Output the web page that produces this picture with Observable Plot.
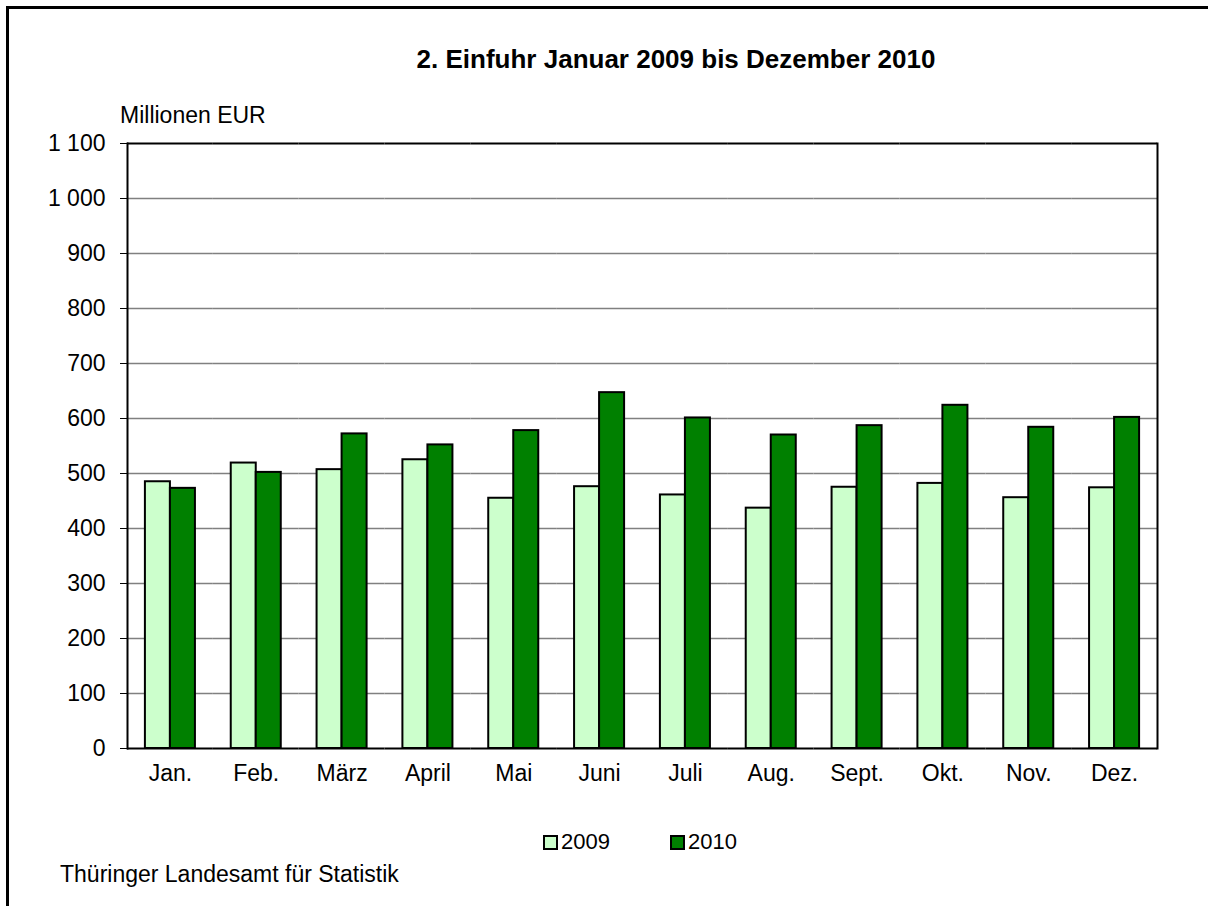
<!DOCTYPE html>
<html>
<head>
<meta charset="utf-8">
<script src="https://cdn.jsdelivr.net/npm/d3@7"></script>
<script src="https://cdn.jsdelivr.net/npm/@observablehq/plot@0.6"></script>
<style>
  html, body { margin: 0; padding: 0; background: #fff; }
  body { font-family: "Liberation Sans", Arial, sans-serif; color: #000; }
  #wrap { position: relative; width: 1208px; height: 906px; overflow: hidden; background: #fff; }
  #border { position: absolute; left: 6px; top: 6px; width: 1300px; height: 1000px; border-left: 3px solid #000; border-top: 3px solid #000; box-sizing: border-box; }
  #chart { position: absolute; left: 0; top: 0; }
  .txt { position: absolute; white-space: nowrap; font-size: 23px; line-height: 1; }
  #title { left: 300px; width: 752px; top: 46px; text-align: center; font-weight: bold; font-size: 26px; }
  #unit { left: 120px; top: 104px; }
  #legend { left: 543px; top: 831px; display: flex; align-items: center; font-size: 22px; }
  .sw { display: inline-block; width: 11px; height: 11px; border: 2px solid #000; margin-right: 3px; }
  #caption { left: 60px; top: 863px; }
</style>
</head>
<body>
<div id="wrap">
  <div id="border"></div>
  <div id="chart"></div>
  <div class="txt" id="title"></div>
  <div class="txt" id="unit"></div>
  <div class="txt" id="legend"></div>
  <div class="txt" id="caption"></div>
</div>
<script>
const titleText = "2. Einfuhr Januar 2009 bis Dezember 2010";
const unitText = "Millionen EUR";
const captionText = "Thüringer Landesamt für Statistik";
const months = ["Jan.", "Feb.", "März", "April", "Mai", "Juni", "Juli", "Aug.", "Sept.", "Okt.", "Nov.", "Dez."];
const years = [2009, 2010];
const values2009 = [485, 519, 507, 525, 455, 476, 461, 437, 475, 482, 456, 474];
const values2010 = [473, 502, 572, 552, 578, 647, 601, 570, 587, 624, 584, 602];
const yTicks = [0, 100, 200, 300, 400, 500, 600, 700, 800, 900, 1000, 1100];
const colors = ["#CCFFCC", "#008000"];

const data = [];
months.forEach((m, i) => {
  data.push({month: m, year: 2009, value: values2009[i]});
  data.push({month: m, year: 2010, value: values2010[i]});
});

const fmt = d3.formatLocale({decimal: ",", thousands: " ", grouping: [3], currency: ["", " €"]}).format(",");

document.getElementById("title").textContent = titleText;
document.getElementById("unit").textContent = unitText;
document.getElementById("caption").textContent = captionText;
const legend = document.getElementById("legend");
years.forEach((y, i) => {
  const item = document.createElement("span");
  item.style.display = "inline-flex";
  item.style.alignItems = "center";
  item.style.marginRight = i === 0 ? "60px" : "0";
  const sw = document.createElement("span");
  sw.className = "sw";
  sw.style.background = colors[i];
  item.appendChild(sw);
  item.appendChild(document.createTextNode(String(y)));
  legend.appendChild(item);
});

const gridTicks = yTicks.filter(t => t > 0 && t < 1100);

const chart = Plot.plot({
  width: 1208,
  height: 906,
  marginTop: 143,
  marginBottom: 158,
  marginLeft: 127,
  marginRight: 51,
  style: {fontFamily: "'Liberation Sans', Arial, sans-serif", fontSize: "23px", color: "#000", background: "transparent"},
  fx: {domain: months, padding: 0, round: false, label: null, tickSize: 0, tickPadding: 16},
  x: {domain: years, paddingInner: 0, paddingOuter: 0.716, round: false, axis: null},
  y: {domain: [0, 1100], ticks: yTicks, tickFormat: fmt, tickSize: 7, tickPadding: 15, label: null},
  color: {domain: years, range: colors},
  marks: [
    Plot.ruleY(gridTicks, {stroke: "#808080", strokeWidth: 1.5}),
    Plot.barY(data, {fx: "month", x: "year", y: "value", fill: "year", stroke: "#000", strokeWidth: 2}),
    Plot.ruleY([0, 1100], {stroke: "#000", strokeWidth: 2}),
    Plot.frame({anchor: "left", facetAnchor: "left", stroke: "#000", strokeWidth: 2}),
    Plot.frame({anchor: "right", facetAnchor: "right", stroke: "#000", strokeWidth: 2})
  ]
});
document.getElementById("chart").appendChild(chart);
</script>
</body>
</html>
